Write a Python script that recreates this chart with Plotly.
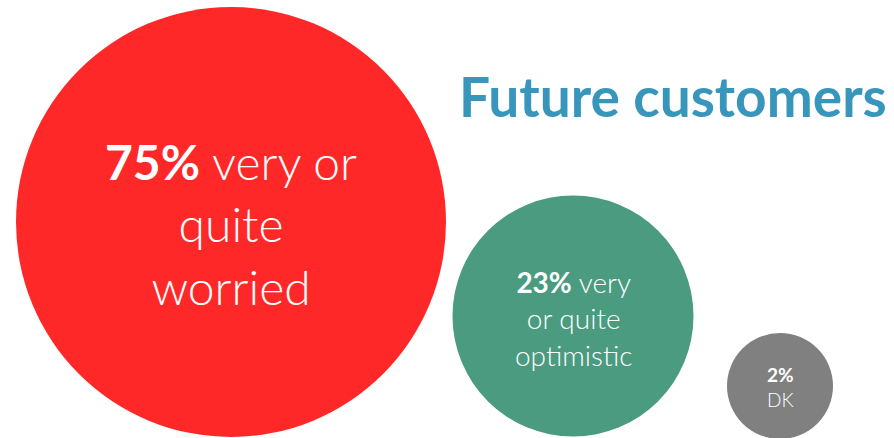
import plotly.graph_objects as go

# Data
categories = ["very or quite worried", "very or quite optimistic", "DK"]
percentages = [75, 23, 2]
label_lines = [["very or", "quite", "worried"], ["very", "or quite", "optimistic"], ["DK"]]
title_text = "Future customers"

# Layout (pixel-space positions/sizes)
W, H = 894, 438
bubble_x = [231, 573, 780]
bubble_y = [222, 316, 386]
bubble_d = [430, 241, 106]
colors = ["#FF2828", "#4A9B80", "#808080"]
font_sizes = [48, 28, 19]
text_y = [224, 318, 387]

FONT = "Lato"

fig = go.Figure()
fig.add_trace(go.Scatter(
    x=bubble_x, y=bubble_y, mode="markers",
    marker=dict(size=bubble_d, sizemode="diameter", color=colors, line=dict(width=0), opacity=1),
    hoverinfo="skip", showlegend=False,
))

for i in range(len(categories)):
    lines = label_lines[i]
    first = f"<b>{percentages[i]}%</b>"
    if i < 2:
        text = first + " " + lines[0] + "<br>" + "<br>".join(lines[1:])
    else:
        text = first + "<br>" + lines[0]
    fig.add_annotation(
        x=bubble_x[i], y=text_y[i], text=text, showarrow=False,
        xanchor="center", yanchor="middle", align="center",
        font=dict(family=FONT, size=font_sizes[i], color="white", weight=300),
    )

fig.add_annotation(
    x=673, y=96, text=f"<b>{title_text}</b>", showarrow=False,
    xanchor="center", yanchor="middle",
    font=dict(family=FONT, size=55, color="#3896BD"),
)

fig.update_layout(
    width=W, height=H,
    margin=dict(l=0, r=0, t=0, b=0),
    paper_bgcolor="white", plot_bgcolor="white",
    xaxis=dict(range=[0, W], visible=False, fixedrange=True),
    yaxis=dict(range=[H, 0], visible=False, fixedrange=True),
)

fig.write_html("out.html", config={"displayModeBar": False})
